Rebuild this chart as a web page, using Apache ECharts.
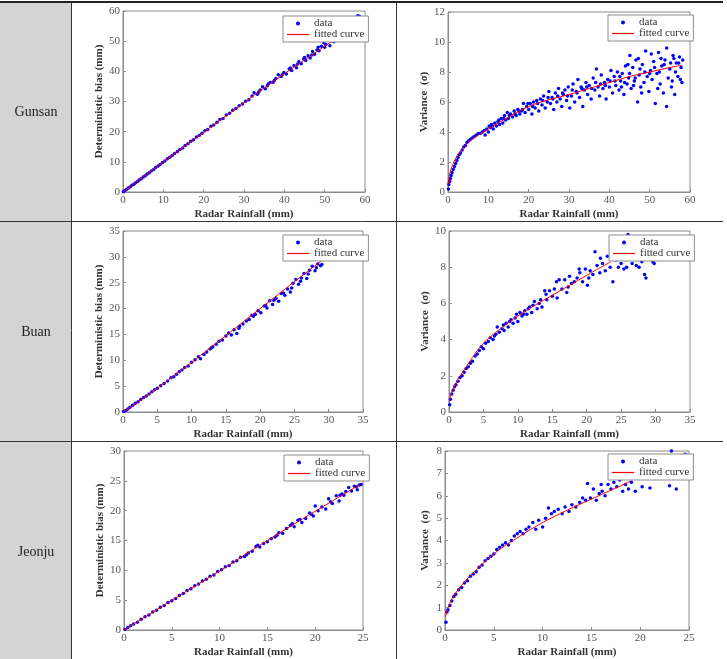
<!DOCTYPE html>
<html>
<head>
<meta charset="utf-8">
<script src="https://cdn.jsdelivr.net/npm/echarts@6/dist/echarts.min.js"></script>
<style>
  html, body { margin: 0; padding: 0; background: #fff; }
  #main { width: 727px; height: 659px; }
</style>
</head>
<body>
<div id="main"></div>
<script>
// station names (row labels)
var stations = ['Gunsan', 'Buan', 'Jeonju'];

// x,y pairs (flat lists)
var gunsanBias = [0.1,0.1, 0.5,0.5, 0.9,0.9, 1.3,1.3, 1.8,1.7, 2.2,2.2, 2.7,2.6, 3.1,3.1, 3.6,3.5, 4.0,4.0,
  4.5,4.4, 5.0,5.0, 5.5,5.4, 6.0,6.0, 6.5,6.4, 7.0,7.0, 7.6,7.5, 8.1,8.1, 8.7,8.6, 9.2,9.1, 9.8,9.8,
  10.4,10.3, 11.0,11.0, 11.6,11.5, 12.2,12.1, 12.8,12.8, 13.5,13.4, 14.1,14.1, 14.8,14.6, 15.4,15.4,
  16.1,16.0, 16.8,16.8, 17.5,17.3, 18.2,18.2, 18.9,18.7, 19.6,19.5, 20.3,20.3, 21.0,20.7, 21.8,21.8,
  22.5,22.2, 23.3,23.1, 24.0,24.0, 24.8,24.4, 25.6,25.5, 26.4,26.1, 27.2,27.1, 28.0,27.7, 28.8,28.6,
  29.6,29.2, 30.4,30.1, 31.2,30.6, 32.0,31.8, 32.5,32.9, 33.3,32.4, 34.0,33.8, 34.6,34.9, 35.3,34.2,
  36.0,35.8, 36.5,36.3, 37.2,36.4, 37.9,37.6, 38.5,38.9, 39.2,38.3, 39.9,39.6, 40.5,39.1, 41.2,40.8,
  41.8,40.3, 42.4,41.9, 43.0,41.2, 43.6,43.2, 44.2,42.5, 44.8,44.1, 45.3,43.6, 45.9,45.2, 46.4,44.4,
  47.0,46.6, 47.5,45.7, 48.1,47.1, 48.6,46.8, 49.2,48.3, 49.8,49.5, 50.3,48.9, 50.8,50.2, 51.3,48.5,
  51.9,50.1, 52.3,49.8, 58.2,58.4, 58.6,58.3,
  33.6,33.1, 35.8,35.2, 37.5,37.0, 39.5,38.9, 41.5,41.1, 43.3,42.4, 45.0,44.6, 46.8,45.4, 48.4,48.0, 50.0,48.0];
var gunsanBiasFit = [0,0, 10,10, 20,19.8, 30,29.6, 40,39.2, 50,48.3, 58,55.6];

var gunsanVar = [0.1,0.2, 0.2,0.5, 0.4,0.7, 0.6,0.9, 0.8,1.1, 1.0,1.3, 1.3,1.5, 1.6,1.7, 1.9,1.9, 2.2,2.1,
  2.5,2.3, 2.8,2.5, 3.1,2.6, 3.5,2.8, 3.9,3.0, 4.3,3.1, 4.7,3.3, 5.1,3.4, 5.5,3.5, 6.0,3.6, 6.5,3.7,
  7.0,3.8, 7.5,3.9, 8.0,3.9, 8.5,4.0, 9.0,4.1, 9.2,3.8, 9.6,4.2, 10.0,4.0, 10.5,4.3, 10.8,4.5, 11.2,4.2,
  11.6,4.6, 12.0,4.4, 12.4,4.7, 12.8,4.5, 13.2,4.9, 13.6,4.6, 14.0,5.1, 14.3,4.8, 14.7,5.3, 15.0,4.9,
  15.5,5.2, 16.0,5.0, 16.4,5.4, 16.9,5.1, 17.3,5.5, 17.8,5.2, 18.2,5.4, 18.7,5.9, 19.1,5.3, 19.5,5.7,
  20.0,5.5, 20.4,5.9, 20.8,5.2, 21.2,6.0, 21.6,5.6, 22.0,6.1, 22.5,5.4, 22.9,6.2, 23.3,5.8, 23.7,6.4,
  24.1,5.6, 24.6,6.0, 25.0,6.7, 25.4,5.9, 25.8,6.3, 26.2,5.5, 26.6,6.6, 27.0,6.0, 27.4,6.9, 27.8,6.2,
  28.2,5.7, 28.6,6.5, 29.0,6.8, 29.4,6.1, 29.8,7.0, 30.2,5.6, 30.6,6.4, 31.0,7.2, 31.4,6.0, 31.8,6.7,
  32.2,7.5, 32.6,6.3, 33.0,7.0, 33.4,5.7, 33.8,6.8, 34.2,7.3, 34.6,6.5, 35.0,7.1, 35.5,6.2, 36.0,7.6,
  36.4,6.8, 36.8,8.2, 37.2,7.0, 37.6,6.4, 38.0,7.8, 38.4,6.9, 38.8,7.3, 39.2,6.2, 39.6,7.5, 40.0,7.0,
  40.4,8.1, 40.8,6.6, 41.2,7.7, 41.6,7.1, 42.0,8.0, 42.4,6.8, 42.8,7.4, 43.2,7.9, 43.6,6.5, 44.0,8.4,
  44.4,7.2, 44.8,7.6, 45.1,9.1, 45.4,6.9, 45.8,8.3, 46.2,7.4, 46.6,8.8, 47.0,6.0, 47.4,7.8, 47.8,7.0,
  48.2,8.5, 48.6,7.3, 49.0,9.4, 49.4,7.7, 49.8,6.7, 50.2,8.1, 50.6,7.5, 51.0,8.7, 51.4,5.9, 51.8,7.9,
  52.2,9.3, 52.6,7.2, 53.0,8.4, 53.4,6.6, 53.8,8.8, 54.2,9.6, 54.2,5.7, 54.6,7.6, 55.0,8.2, 55.4,7.0,
  55.8,9.1, 56.2,6.5, 56.6,8.6, 57.0,7.7, 57.4,9.0, 57.8,8.3, 58.0,7.3, 58.2,8.8, 57.6,7.5,
  10.2,4.4, 11.0,4.4, 12.6,4.8, 13.8,4.9, 15.2,5.1, 16.6,5.2, 17.6,5.4, 18.5,5.5, 19.8,5.9, 21.0,5.7,
  22.2,5.9, 23.5,6.1, 24.8,6.3, 26.0,6.2, 27.2,6.4, 28.4,6.6, 29.6,6.4, 30.8,6.8, 32.0,6.6, 33.2,6.9,
  34.4,7.0, 35.6,6.9, 36.6,7.3, 37.8,7.2, 39.0,7.1, 40.2,7.4, 41.4,7.4, 42.6,7.7, 43.8,7.3, 45.0,7.9,
  46.4,7.6, 47.6,8.2, 48.8,8.0, 50.0,7.9, 51.2,8.3, 52.4,8.0, 53.6,8.5, 55.2,8.6, 56.4,8.0, 57.2,8.6,
  44.6,8.5, 47.2,8.9, 50.4,9.2, 52.8,8.9, 56.0,8.9, 48.0,6.6, 52.0,6.9, 55.6,7.4, 43.0,7.0, 46.0,7.1];
var gunsanVarFit = [0,0.5, 0.2,0.9, 0.5,1.3, 1,1.7, 2,2.3, 3,2.7, 5,3.3, 7,3.7, 10,4.2, 15,5.0, 20,5.7,
  25,6.15, 30,6.5, 35,6.9, 40,7.3, 45,7.7, 50,8.0, 55,8.3, 58,8.45];

var buanBias = [0.1,0.1, 0.4,0.3, 0.7,0.6, 1.0,0.9, 1.4,1.3, 1.8,1.7, 2.2,2.0, 2.6,2.4, 3.0,2.8, 3.4,3.1,
  3.8,3.5, 4.2,3.9, 4.6,4.3, 5.0,4.6, 5.5,5.1, 6.0,5.5, 6.5,6.0, 7.0,6.6, 7.4,6.8, 7.8,7.3, 8.2,7.8,
  8.6,8.1, 9.0,8.6, 9.5,8.9, 10.0,9.6, 10.5,10.1, 11.0,10.7, 11.3,10.3, 11.8,11.1, 12.2,11.6, 12.7,12.2,
  13.1,12.6, 13.6,13.1, 14.0,13.7, 14.5,13.9, 15.0,14.7, 15.4,15.3, 15.8,14.9, 16.2,15.9, 16.6,15.2,
  17.0,16.6, 17.5,17.0, 18.0,17.6, 18.4,17.9, 18.8,18.7, 19.3,18.9, 19.7,19.6, 20.1,19.2, 20.6,20.5,
  21.0,20.1, 21.4,21.5, 21.8,20.8, 22.3,22.0, 22.7,21.4, 23.1,22.9, 23.6,22.6, 24.0,23.8, 24.4,23.2,
  24.8,24.9, 25.2,25.6, 25.6,24.7, 26.0,25.9, 26.4,26.8, 26.8,25.8, 27.2,27.4, 27.6,28.2, 28.0,27.3,
  28.4,28.6, 28.8,28.3, 29.0,28.5,
  12.9,12.4, 16.9,16.2, 19.0,18.5, 20.8,20.6, 22.0,21.6, 23.4,23.0, 24.6,24.0, 25.9,25.3, 27.0,26.7, 28.2,27.9];
var buanBiasFit = [0,0, 2,1.8, 5,4.6, 10,9.6, 15,14.8, 20,20.0, 25,25.2, 29,29.3];

var buanVar = [0.1,0.4, 0.2,0.7, 0.4,1.0, 0.6,1.2, 0.8,1.4, 1.0,1.5, 1.3,1.7, 1.6,1.9, 1.9,2.0, 2.2,2.2,
  2.5,2.4, 2.8,2.5, 3.1,2.7, 3.4,2.8, 3.8,3.1, 4.1,3.2, 4.4,3.4, 4.7,3.6, 5.0,3.5, 5.3,3.8, 5.7,3.9,
  6.0,4.1, 6.4,4.0, 6.8,4.3, 7.0,4.7, 7.3,4.4, 7.7,4.6, 8.0,4.5, 8.3,4.9, 8.6,4.7, 9.0,5.1, 9.3,4.9,
  9.6,5.2, 10.0,5.0, 10.3,5.5, 10.6,5.3, 11.0,5.6, 11.3,5.4, 11.7,5.8, 12.0,5.5, 12.4,6.1, 12.8,5.7,
  13.1,6.0, 13.5,5.8, 13.9,6.7, 14.2,6.2, 14.6,6.7, 15.0,6.4, 15.3,6.8, 15.7,6.3, 16.0,7.3, 16.4,6.8,
  16.8,7.3, 17.1,6.6, 17.5,7.5, 17.8,7.1, 18.2,7.2, 18.6,7.4, 19.0,7.7, 19.4,7.2, 19.8,7.9, 20.1,7.0,
  20.5,7.8, 20.9,7.6, 21.2,8.85, 21.5,8.1, 21.9,7.7, 22.3,8.2, 22.7,7.8, 23.0,8.6, 23.4,8.0, 23.8,7.2,
  24.2,8.4, 24.6,8.0, 25.0,8.2, 25.4,7.9, 25.8,8.0, 26.0,9.8, 26.6,8.2, 27.2,8.1, 27.6,8.0, 28.0,8.3,
  28.4,7.6, 28.6,7.4, 29.6,8.3, 29.8,8.2, 22.0,8.5, 20.3,7.4, 18.9,7.9, 17.3,6.9, 15.6,7.2, 14.1,6.5,
  13.3,6.2, 12.2,5.9, 11.5,5.7, 10.8,5.4, 9.8,5.4, 8.8,5.0, 7.9,4.8, 6.6,4.2];
var buanVarFit = [0,0.55, 0.3,1.0, 1,1.6, 2.5,2.5, 5,3.8, 7.5,4.6, 10,5.3, 12.5,5.9, 15,6.45, 17.5,7.0,
  20,7.55, 23.5,8.3];

var jeonjuBias = [0.1,0.1, 0.4,0.4, 0.7,0.7, 1.0,1.0, 1.4,1.3, 1.8,1.8, 2.2,2.2, 2.6,2.5, 3.0,3.0, 3.4,3.3,
  3.8,3.8, 4.2,4.1, 4.6,4.6, 5.0,4.9, 5.4,5.3, 5.8,5.8, 6.2,6.1, 6.6,6.6, 7.0,6.9, 7.4,7.4, 7.8,7.7,
  8.2,8.2, 8.6,8.5, 9.0,9.0, 9.4,9.2, 9.8,9.8, 10.2,10.1, 10.6,10.6, 11.0,10.8, 11.4,11.4, 11.8,11.6,
  12.2,12.2, 12.6,12.3, 13.0,12.9, 13.4,13.2, 13.8,14.0, 14.2,13.9, 14.6,14.5, 15.0,14.8, 15.4,15.3,
  15.8,15.6, 16.2,16.3, 16.6,16.2, 17.0,17.0, 17.4,17.5, 17.8,17.3, 18.2,18.4, 18.6,18.0, 19.0,18.7,
  19.4,19.6, 19.8,19.1, 20.0,20.8, 20.3,20.0, 20.7,20.6, 21.1,20.3, 21.4,22.0, 21.8,21.2, 22.2,22.5,
  22.5,21.6, 22.8,22.8, 23.2,23.2, 23.5,23.9, 23.8,23.3, 24.1,24.1, 24.4,23.5, 24.6,24.3, 24.8,24.4,
  12.8,12.6, 14.0,14.2, 16.0,15.9, 17.6,17.8, 18.4,18.5, 19.6,19.4, 21.6,21.5, 22.6,22.6, 23.0,22.6, 24.3,24.0];
var jeonjuBiasFit = [0,0, 5,4.97, 10,9.9, 15,15.0, 20,19.9, 24.7,24.4];

var jeonjuVar = [0.1,0.35, 0.2,0.8, 0.3,0.9, 0.5,1.1, 0.7,1.3, 0.9,1.5, 1.1,1.6, 1.4,1.8, 1.7,1.9, 2.0,2.1,
  2.3,2.2, 2.6,2.4, 2.9,2.5, 3.2,2.6, 3.5,2.8, 3.8,2.9, 4.1,3.1, 4.4,3.2, 4.7,3.3, 5.0,3.4, 5.3,3.6,
  5.6,3.7, 5.9,3.8, 6.2,3.9, 6.5,3.8, 6.8,4.0, 7.1,4.2, 7.4,4.3, 7.7,4.4, 8.0,4.3, 8.3,4.5, 8.6,4.6,
  9.0,4.8, 9.3,4.5, 9.6,4.9, 10.0,4.6, 10.3,5.0, 10.6,5.45, 10.9,5.2, 11.2,5.3, 11.6,5.4, 12.0,5.2,
  12.3,5.5, 12.7,5.3, 13.0,5.6, 13.4,5.5, 13.8,5.7, 14.1,5.9, 14.4,5.8, 14.6,6.55, 14.9,5.9, 15.2,6.3,
  15.5,5.8, 15.8,6.1, 16.1,6.2, 16.4,6.0, 16.7,6.5, 17.0,6.3, 17.3,6.6, 17.6,6.4, 17.9,6.7, 18.2,6.2,
  18.5,6.5, 18.8,6.3, 19.1,6.6, 19.5,6.2, 20.2,6.4, 21.0,6.35, 23.0,6.45, 23.2,8.0, 23.7,6.3, 24.6,7.85,
  19.8,6.9, 18.0,6.9, 16.0,6.5];
var jeonjuVarFit = [0.05,0.6, 0.5,1.2, 1,1.6, 2,2.15, 3,2.6, 5,3.4, 7.5,4.15, 10,4.8, 12.5,5.35, 15,5.85,
  17.5,6.35, 19,6.65];

// axis ranges: [xMax, xStep, yMax, yStep]
var panelAxes = [
  [60, 10, 60, 10], [60, 10, 12, 2],
  [35, 5, 35, 5],   [35, 5, 10, 2],
  [25, 5, 30, 5],   [25, 5, 8, 1]
];
var panelData = [gunsanBias, gunsanVar, buanBias, buanVar, jeonjuBias, jeonjuVar];
var panelFit = [gunsanBiasFit, gunsanVarFit, buanBiasFit, buanVarFit, jeonjuBiasFit, jeonjuVarFit];

var xName = 'Radar Rainfall (mm)';
var yNames = ['Deterministic bias (mm)', 'Variance  (σ)'];

function pairs(flat) {
  var out = [];
  for (var i = 0; i < flat.length; i += 2) out.push([flat[i], flat[i + 1]]);
  return out;
}

var chart = echarts.init(document.getElementById('main'));

// grid boxes for the six panels
var boxes = [
  {left: 123, top: 11, width: 242, height: 181},
  {left: 448, top: 12, width: 242, height: 180},
  {left: 123, top: 231, width: 240, height: 181},
  {left: 449, top: 231, width: 241, height: 181},
  {left: 124, top: 451, width: 239, height: 181},
  {left: 445, top: 451, width: 244, height: 181}
];
var legendPos = [[283, 16], [608, 15], [283, 235], [609, 235], [284, 455], [608, 454]];

var serif = 'Liberation Serif, Times New Roman, serif';
var grids = [], xAxes = [], yAxes = [], series = [], legends = [];

boxes.forEach(function(b, i) {
  var ax = panelAxes[i];
  grids.push({left: b.left, top: b.top, width: b.width, height: b.height,
    show: true, borderColor: '#8c8c8c', borderWidth: 1, backgroundColor: '#fff'});
  var common = {
    gridIndex: i, type: 'value', min: 0,
    axisLine: {show: true, lineStyle: {color: '#8c8c8c'}},
    axisTick: {show: true, inside: true, length: 3, lineStyle: {color: '#8c8c8c'}},
    splitLine: {show: false},
    nameLocation: 'middle',
    nameTextStyle: {fontFamily: serif, fontWeight: 'bold', fontSize: 11, color: '#333'}
  };
  xAxes.push(Object.assign({}, common, {
    max: ax[0], interval: ax[1], name: xName, nameGap: 17,
    axisLabel: {fontFamily: serif, fontSize: 11, color: '#555', margin: 3}
  }));
  yAxes.push(Object.assign({}, common, {
    max: ax[2], interval: ax[3], name: yNames[i % 2], nameGap: 14,
    axisLabel: {fontFamily: serif, fontSize: 11, color: '#555', margin: 3}
  }));
  series.push({
    name: 'data', type: 'scatter', xAxisIndex: i, yAxisIndex: i,
    symbolSize: 3.5, itemStyle: {color: '#0000ff', opacity: 1},
    data: pairs(panelData[i]), z: 2
  });
  series.push({
    name: 'fitted curve', type: 'line', xAxisIndex: i, yAxisIndex: i,
    smooth: 0.4, symbol: 'none', lineStyle: {color: '#ff0000', width: 1},
    itemStyle: {color: '#ff0000'},
    data: pairs(panelFit[i]), z: 3
  });
  legends.push({
    left: legendPos[i][0], top: legendPos[i][1], orient: 'vertical',
    backgroundColor: '#fff', borderColor: '#8c8c8c', borderWidth: 1,
    padding: [2, 4, 2, 4], itemGap: 0, itemWidth: 22, itemHeight: 4,
    selectedMode: false,
    textStyle: {fontFamily: serif, fontSize: 11, color: '#333'},
    data: [
      {name: 'data', icon: 'circle'},
      {name: 'fitted curve', icon: 'path://M0,0H22V1.2H0Z', itemStyle: {color: '#ff0000'}}
    ]
  });
});

// table frame drawn as graphic elements
var graphics = [
  {type: 'rect', shape: {x: 0, y: 2, width: 71, height: 657}, style: {fill: '#d4d4d4'}, silent: true},
  {type: 'line', shape: {x1: 0, y1: 2, x2: 723, y2: 2}, style: {stroke: '#222', lineWidth: 2}},
  {type: 'line', shape: {x1: 0, y1: 221.5, x2: 723, y2: 221.5}, style: {stroke: '#333', lineWidth: 1}},
  {type: 'line', shape: {x1: 0, y1: 441.5, x2: 723, y2: 441.5}, style: {stroke: '#333', lineWidth: 1}},
  {type: 'line', shape: {x1: 71.5, y1: 2, x2: 71.5, y2: 659}, style: {stroke: '#333', lineWidth: 1}},
  {type: 'line', shape: {x1: 396.5, y1: 2, x2: 396.5, y2: 659}, style: {stroke: '#333', lineWidth: 1}}
];
var labelY = [112, 332, 552];
stations.forEach(function(s, i) {
  graphics.push({type: 'text', x: 36, y: labelY[i],
    style: {text: s, fontFamily: serif, fontSize: 14, fill: '#222', align: 'center', verticalAlign: 'middle'}});
});

chart.setOption({
  animation: false,
  grid: grids,
  xAxis: xAxes,
  yAxis: yAxes,
  legend: legends,
  graphic: graphics,
  series: series
});
</script>
</body>
</html>
